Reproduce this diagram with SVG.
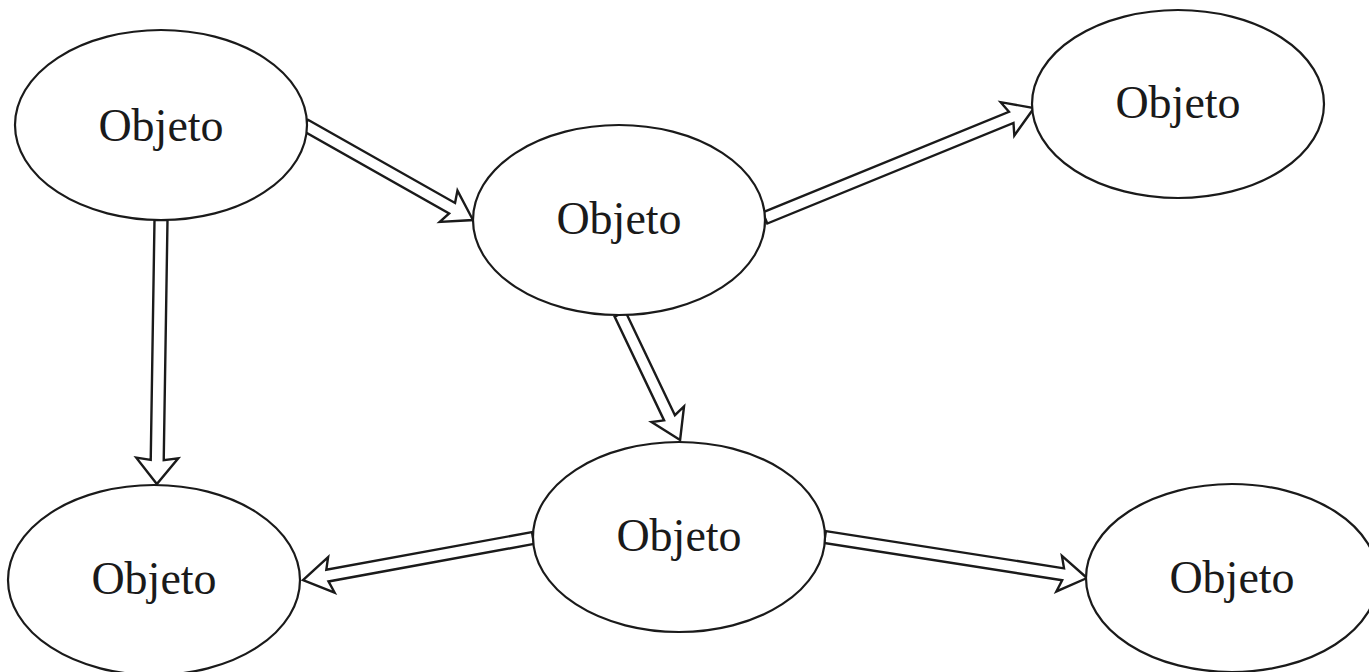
<svg xmlns="http://www.w3.org/2000/svg" width="1369" height="672" viewBox="0 0 1369 672">
<style>
.n ellipse{fill:#fff;stroke:#1a1a1a;stroke-width:2.2}
.n text{font-family:"Liberation Serif","DejaVu Serif",serif;font-size:46px;fill:#1a1a1a;text-anchor:middle;dominant-baseline:central}
.c path{fill:#fff;stroke:#1a1a1a;stroke-width:2.4;stroke-linejoin:miter}
</style>
<rect width="1369" height="672" fill="#fff"/>
<g class="c" id="connectors">
<g transform="translate(305,125) rotate(29.5)"><path d="M0,-6 L169,-6 L165,-18 L193,0 L165,18 L169,6 L0,6 Z"/></g>
<g transform="translate(161,220) rotate(90.9)"><path d="M0,-6.5 L240,-6.5 L238,-21 L264,0 L238,21 L240,6.5 L0,6.5 Z"/></g>
<g transform="translate(620,314) rotate(64.5)"><path d="M0,-6 L115,-6 L111,-18 L139.6,0 L111,18 L115,6 L0,6 Z"/></g>
<g transform="translate(533,538) rotate(169.65)"><path d="M0,-6 L209,-6 L205,-18 L233.8,0 L205,18 L209,6 L0,6 Z"/></g>
<g transform="translate(825,537) rotate(8.9)"><path d="M0,-6 L241,-6 L237,-18 L265.2,0 L237,18 L241,6 L0,6 Z"/></g>
<g transform="translate(765,218) rotate(-22.24)"><path d="M0,-6 L266,-6 L262,-18 L290.6,0 L262,18 L266,6 L0,6 Z"/></g>
</g>
<g class="n" id="n1"><ellipse cx="161" cy="125" rx="146" ry="95"/><text x="161" y="125">Objeto</text></g>
<g class="n" id="n2"><ellipse cx="619" cy="220" rx="146" ry="95"/><text x="619" y="218">Objeto</text></g>
<g class="n" id="n3"><ellipse cx="1178" cy="104" rx="146" ry="94"/><text x="1178" y="102">Objeto</text></g>
<g class="n" id="n4"><ellipse cx="154" cy="580" rx="146" ry="95"/><text x="154" y="578">Objeto</text></g>
<g class="n" id="n5"><ellipse cx="679" cy="537" rx="146" ry="95"/><text x="679" y="535">Objeto</text></g>
<g class="n" id="n6"><ellipse cx="1232" cy="578" rx="146" ry="94"/><text x="1232" y="577">Objeto</text></g>
</svg>
